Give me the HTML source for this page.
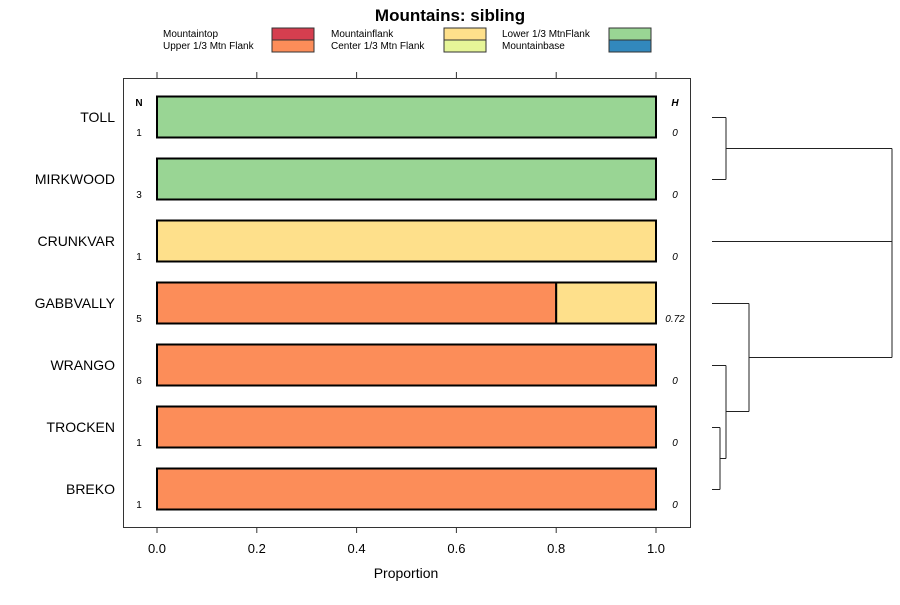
<!DOCTYPE html>
<html><head><meta charset="utf-8"><style>body{margin:0;background:#fff}svg{font-family:"Liberation Sans",sans-serif}</style></head><body>
<svg id="c" width="900" height="600"></svg>
<script>
const categories=["TOLL","MIRKWOOD","CRUNKVAR","GABBVALLY","WRANGO","TROCKEN","BREKO"];
const nValues=[1,3,1,5,6,1,1];
const hValues=["0","0","0","0.72","0","0","0"];
const upperThird=[0,0,0,0.8,1,1,1];
const mountainflank=[0,0,1,0.2,0,0,0];
const lowerThird=[1,1,0,0,0,0,0];
const xTicks=[0,0.2,0.4,0.6,0.8,1.0];
const xTickLabels=["0.0","0.2","0.4","0.6","0.8","1.0"];
const legendLabels=["Mountaintop","Upper 1/3 Mtn Flank","Mountainflank","Center 1/3 Mtn Flank","Lower 1/3 MtnFlank","Mountainbase"];
const legendColors=["#D53E4F","#FC8D59","#FEE08B","#E6F598","#99D594","#3288BD"];
const svg=document.getElementById('c');const NS="http://www.w3.org/2000/svg";
function mk(t,a,p){const e=document.createElementNS(NS,t);for(const k in a)e.setAttribute(k,a[k]);(p||svg).appendChild(e);return e;}
function tx(x,y,s,a){const e=mk('text',Object.assign({x:x,y:y},a));e.textContent=s;return e;}
const X=v=>157+v*499, Y=i=>117+i*62;
let t=tx(450,21,"Mountains: sibling",{"text-anchor":"middle","font-size":"17","font-weight":"bold"});

const lx=[163,331,502],bx=[272,444,609];
legendLabels.forEach((l,i)=>{const c=Math.floor(i/2),r=i%2;
 const g=mk('g',{});
 tx(lx[c],37+r*12,l,{"font-size":"10"},g);
 mk('rect',{x:bx[c],y:28+r*12,width:42,height:12,fill:legendColors[i],stroke:"#333"},g);});
let fr=mk('rect',{x:123.5,y:78.5,width:567,height:449,fill:"none",stroke:"#333"});

xTicks.forEach((v,i)=>{mk('line',{x1:X(v),x2:X(v),y1:72,y2:78,stroke:"#333"});mk('line',{x1:X(v),x2:X(v),y1:527,y2:533,stroke:"#333"});
 const e=tx(X(v),553,xTickLabels[i],{"text-anchor":"middle","font-size":"13"});});
t=tx(406,578,"Proportion",{"text-anchor":"middle","font-size":"14"});
tx(139,106,"N",{"text-anchor":"middle","font-size":"10","font-weight":"bold"});
tx(675,106,"H",{"text-anchor":"middle","font-size":"10","font-weight":"bold","font-style":"italic"});
categories.forEach((c,i)=>{const y=Y(i);
 const e=tx(115,y+5,c,{"text-anchor":"end","font-size":"14"});
 tx(139,y+19,nValues[i],{"text-anchor":"middle","font-size":"10"});
 tx(675,y+19,hValues[i],{"text-anchor":"middle","font-size":"10","font-style":"italic"});
 let s=0;[[upperThird,"#FC8D59"],[mountainflank,"#FEE08B"],[lowerThird,"#99D594"]].forEach(([arr,col])=>{const v=arr[i];if(v>0){
  const r=mk('rect',{x:X(s),y:y-20.5,width:X(s+v)-X(s),height:41,fill:col,stroke:"#000","stroke-width":2});
  s+=v;}});});
const D=[[712,117,726,117],[712,179,726,179],[726,117,726,179],[726,148,892,148],[712,241,892,241],[712,303,749,303],[712,365,726,365],[712,427,720,427],[712,489,720,489],[720,427,720,489],[720,458,726,458],[726,365,726,458],[726,411,749,411],[749,303,749,411],[749,357,892,357],[892,148,892,357]];
const dg=mk('g',{stroke:"#222","stroke-width":1});
D.forEach(d=>mk('line',{x1:d[0],y1:d[1]+.5,x2:d[2],y2:d[3]+.5},dg));
</script></body></html>
